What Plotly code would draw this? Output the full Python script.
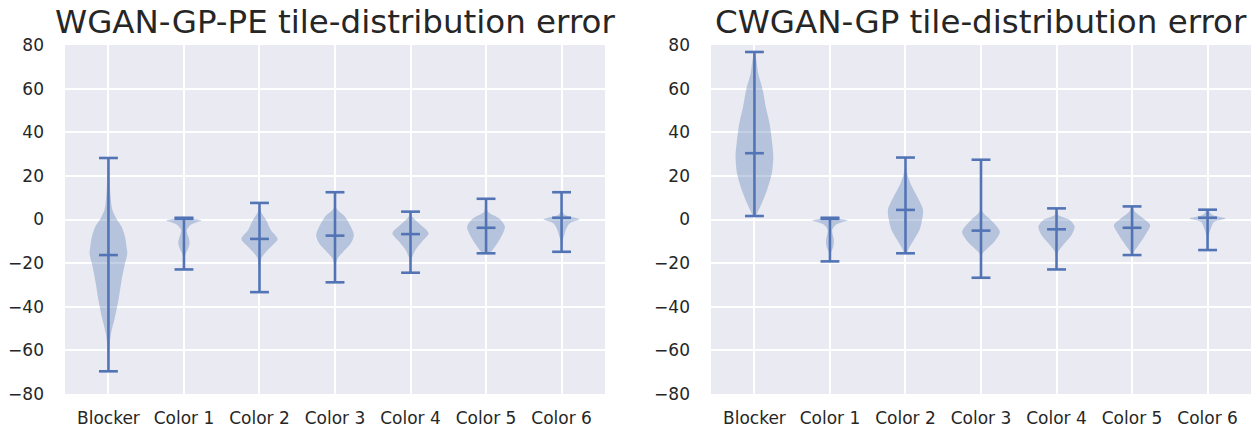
import plotly.graph_objects as go

categories = ["Blocker", "Color 1", "Color 2", "Color 3", "Color 4", "Color 5", "Color 6"]
positions = [1, 2, 3, 4, 5, 6, 7]
titles = ["WGAN-GP-PE tile-distribution error", "CWGAN-GP tile-distribution error"]
y_ticks = [-80, -60, -40, -20, 0, 20, 40, 60, 80]
y_tick_labels = ["\u221280", "\u221260", "\u221240", "\u221220", "0", "20", "40", "60", "80"]

# ---- WGAN-GP-PE ----
pe_min = [-69.6, -22.9, -33.3, -28.8, -24.4, -15.5, -14.8]
pe_max = [28.2, 0.8, 7.6, 12.5, 3.6, 9.5, 12.5]
pe_median = [-16.3, 0.3, -8.9, -7.4, -6.7, -3.8, 0.8]
pe_shape_y = [
    [28.2, 20, 10, 4.4, 0, -3.3, -8, -12.5, -15.5, -21.6, -29.3, -36.9, -44.6, -52.2, -57, -63, -69.6],
    [0.8, 0.3, -0.5, -1.5, -2.5, -4.8, -6.5, -8.6, -10.9, -13.2, -15.5, -18, -22.9],
    [7.6, 3.6, -0.2, -4.8, -8.9, -11.7, -14.8, -17.8, -22, -28, -33.3],
    [12.5, 5.1, 1.3, -3.3, -7.1, -10.9, -14.8, -17.8, -21, -28.8],
    [3.6, 1.3, -1.7, -6.3, -10.2, -14, -17.8, -20, -24.4],
    [9.5, 3.6, 0.5, -3.3, -7.9, -11.7, -14.8, -15.5],
    [12.5, 4, 2.1, 0.1, -1.7, -4, -7.1, -10, -14.8],
]
pe_shape_w = [
    [0.0, 0.05, 0.12, 0.21, 0.45, 0.7, 0.88, 0.96, 1.0, 0.84, 0.67, 0.53, 0.35, 0.14, 0.07, 0.03, 0.0],
    [0.05, 0.5, 0.93, 0.6, 0.35, 0.15, 0.18, 0.26, 0.3, 0.23, 0.1, 0.03, 0.0],
    [0.0, 0.08, 0.35, 0.6, 0.96, 0.7, 0.35, 0.1, 0.04, 0.02, 0.0],
    [0.0, 0.08, 0.53, 0.84, 1.0, 0.84, 0.44, 0.14, 0.04, 0.0],
    [0.0, 0.1, 0.44, 0.96, 0.6, 0.26, 0.07, 0.03, 0.0],
    [0.0, 0.1, 0.7, 1.0, 0.8, 0.53, 0.26, 0.1],
    [0.0, 0.02, 0.18, 0.96, 0.44, 0.26, 0.14, 0.05, 0.0],
]

# ---- CWGAN-GP ----
cw_min = [1.6, -19.2, -15.5, -26.7, -22.9, -16.3, -14.0]
cw_max = [76.8, 0.8, 28.4, 27.4, 5.1, 6.0, 4.5]
cw_median = [30.4, 0.3, 4.4, -5.1, -4.5, -3.8, 0.8]
cw_shape_y = [
    [76.8, 73.2, 67, 59.4, 51.7, 44.1, 36.5, 28.8, 21.2, 13.5, 7.4, 2.8, 1.6],
    [0.8, 0.3, -0.5, -1.5, -2.5, -4.8, -7, -9.4, -12.5, -15, -19.2],
    [28.4, 22.7, 16.6, 10.5, 4.4, -0.2, -4.8, -9.4, -13.2, -15.5],
    [27.4, 10, 3.6, -0.2, -5.6, -10.2, -13.2, -15.5, -18, -26.7],
    [5.1, 2.1, -0.2, -3.3, -7.1, -11.7, -14.8, -17, -22.9],
    [6.0, 3.6, 0.5, -2.5, -7.1, -11.7, -14.8, -16.3],
    [4.5, 2.1, 0.5, -1, -3.3, -6.3, -9, -14],
]
cw_shape_w = [
    [0.0, 0.1, 0.2, 0.44, 0.6, 0.8, 0.92, 1.0, 0.92, 0.67, 0.39, 0.14, 0.05],
    [0.05, 0.5, 0.93, 0.55, 0.3, 0.12, 0.15, 0.21, 0.18, 0.06, 0.0],
    [0.0, 0.05, 0.26, 0.62, 0.93, 0.88, 0.74, 0.44, 0.18, 0.05],
    [0.0, 0.02, 0.08, 0.53, 1.0, 0.7, 0.35, 0.09, 0.03, 0.0],
    [0.0, 0.1, 0.7, 0.96, 0.8, 0.35, 0.09, 0.03, 0.0],
    [0.0, 0.15, 0.6, 0.96, 0.7, 0.35, 0.1, 0.03],
    [0.02, 0.26, 0.96, 0.35, 0.21, 0.09, 0.03, 0.0],
]

HALF_WIDTH = 0.25   # violin max half-width (x units)
CAP = 0.125         # extrema / median cap half-length
FILL = "rgba(76,114,176,0.33)"
LINE = "#5274B5"
BG = "#EAEAF2"
TXT = "#262626"
FONT = "DejaVu Sans"

panels = [
    (pe_min, pe_max, pe_median, pe_shape_y, pe_shape_w, "x", "y"),
    (cw_min, cw_max, cw_median, cw_shape_y, cw_shape_w, "x2", "y2"),
]

fig = go.Figure()
for mins, maxs, meds, sy, sw, xa, ya in panels:
    for i, p in enumerate(positions):
        ys = sy[i]
        ws = sw[i]
        px = [p + HALF_WIDTH * w for w in ws] + [p - HALF_WIDTH * w for w in reversed(ws)]
        py = list(ys) + list(reversed(ys))
        fig.add_trace(go.Scatter(x=px, y=py, mode="lines", fill="toself", fillcolor=FILL,
                                 line=dict(width=0, shape="spline", smoothing=0.8),
                                 hoverinfo="skip", showlegend=False, xaxis=xa, yaxis=ya))
    lx, ly = [], []
    for i, p in enumerate(positions):
        lx += [p, p, None]
        ly += [mins[i], maxs[i], None]
        for v in (mins[i], maxs[i], meds[i]):
            lx += [p - CAP, p + CAP, None]
            ly += [v, v, None]
    fig.add_trace(go.Scatter(x=lx, y=ly, mode="lines", line=dict(color=LINE, width=2.6),
                             hoverinfo="skip", showlegend=False, xaxis=xa, yaxis=ya))

W, H = 1254, 429
dom_left = [65 / W, 605 / W]
dom_right = [711 / W, 1251 / W]
dom_y = [(H - 394) / H, (H - 45) / H]

xcommon = dict(range=[0.425, 7.575], tickvals=positions, ticktext=categories,
               showgrid=True, gridcolor="white", gridwidth=1.5, zeroline=False,
               showline=False, ticks="", ticklabelstandoff=12,
               tickfont=dict(family=FONT, size=17, color=TXT), automargin=False, fixedrange=True)
ycommon = dict(range=[-80, 80], tickvals=y_ticks, ticktext=y_tick_labels,
               showgrid=True, gridcolor="white", gridwidth=1.5, zeroline=False,
               showline=False, ticks="", ticklabelstandoff=20,
               tickfont=dict(family=FONT, size=17, color=TXT), automargin=False, fixedrange=True)

fig.update_layout(
    width=W, height=H,
    margin=dict(l=0, r=0, t=0, b=0),
    paper_bgcolor="white", plot_bgcolor=BG,
    template="none",
    xaxis=dict(domain=dom_left, anchor="y", **xcommon),
    yaxis=dict(domain=dom_y, anchor="x", **ycommon),
    xaxis2=dict(domain=dom_right, anchor="y2", **xcommon),
    yaxis2=dict(domain=dom_y, anchor="x2", **ycommon),
    annotations=[
        dict(text=titles[0], x=sum(dom_left) / 2, y=(H - 22) / H, xref="paper", yref="paper",
             xanchor="center", yanchor="middle", showarrow=False,
             font=dict(family=FONT, size=32.5, color=TXT)),
        dict(text=titles[1], x=sum(dom_right) / 2, y=(H - 22) / H, xref="paper", yref="paper",
             xanchor="center", yanchor="middle", showarrow=False,
             font=dict(family=FONT, size=32.5, color=TXT)),
    ],
)

fig.write_html("out.html", config={"displayModeBar": False},
               post_script="document.body.style.margin='0px';")
